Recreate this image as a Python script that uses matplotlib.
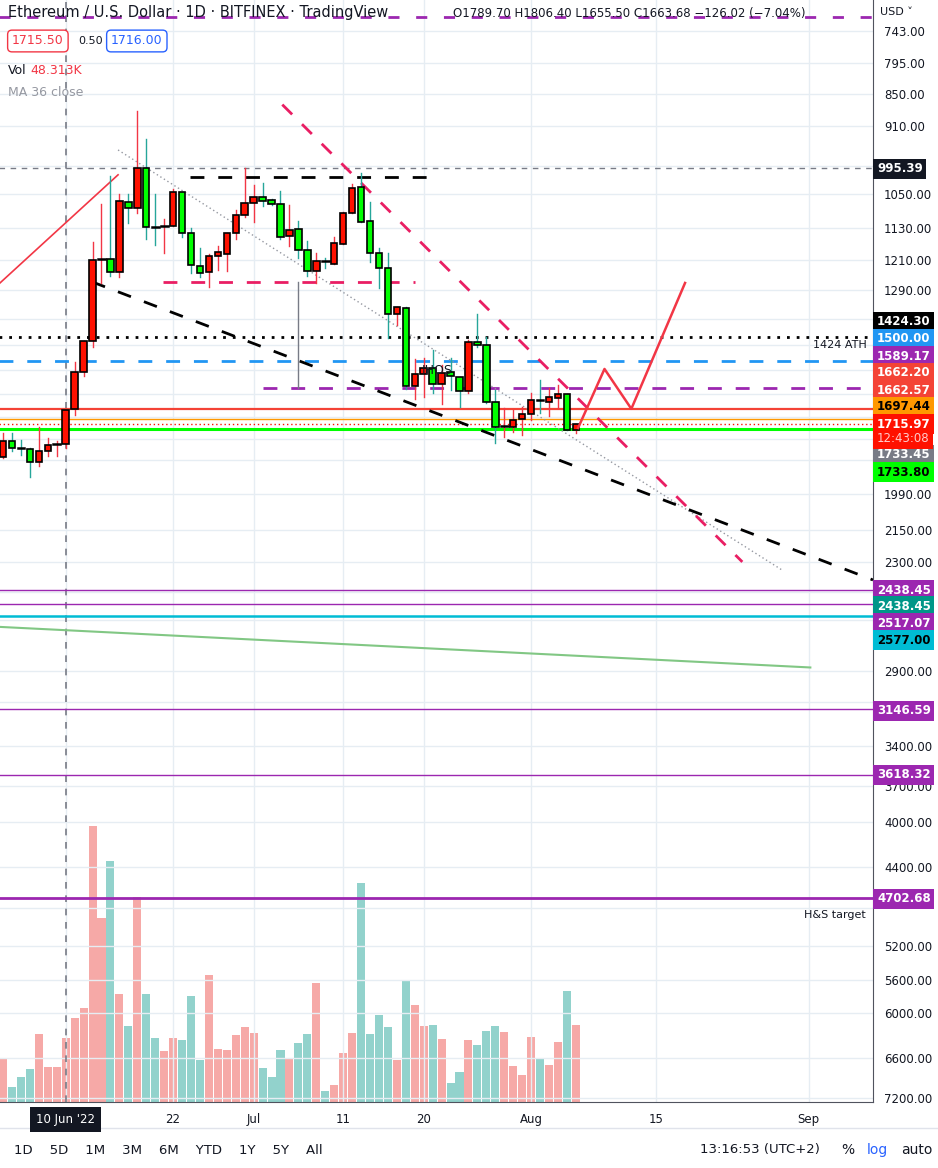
import numpy as np
import matplotlib
matplotlib.use("Agg")
import matplotlib.pyplot as plt
from matplotlib.patches import Rectangle

plt.rcParams["font.family"] = ["DejaVu Sans"]

# daily candles, Jun 3 .. Aug 6 2022 (index 0 = Jun 3)
opens = [1839, 1777, 1806, 1808, 1858, 1815, 1792, 1788, 1661, 1535, 1437, 1209, 1206, 1241, 1069, 1083, 995,
         1127, 1127, 1125, 1046, 1142, 1225, 1241, 1199, 1194, 1142, 1099, 1071, 1057, 1064, 1073, 1150, 1132,
         1185, 1238, 1212, 1220, 1169, 1094, 1035, 1113, 1192, 1231, 1357, 1340, 1581, 1542, 1523, 1575, 1535,
         1551, 1598, 1440, 1449, 1635, 1726, 1725, 1695, 1677, 1628, 1635, 1621, 1608, 1737]
highs = [1843, 1815, 1831, 1919, 1874, 1835, 1835, 1804, 1682, 1548, 1455, 1270, 1252, 1255, 1118, 1094, 1156,
         1171, 1192, 1125, 1152, 1243, 1255, 1281, 1236, 1238, 1156, 1104, 1116, 1078, 1075, 1157, 1174, 1204,
         1252, 1270, 1231, 1220, 1169, 1094, 1116, 1215, 1284, 1428, 1389, 1591, 1625, 1618, 1605, 1642, 1595,
         1653, 1605, 1455, 1639, 1785, 1762, 1744, 1755, 1699, 1674, 1685, 1656, 1737, 1747]
lows = [1747, 1747, 1773, 1806, 1725, 1766, 1777, 1663, 1503, 1437, 1164, 1073, 1011, 1051, 1051, 881, 935,
        1051, 1108, 1040, 1046, 1130, 1178, 1194, 1174, 1142, 1087, 995, 1031, 1027, 1062, 1044, 1076, 1113,
        1162, 1192, 1204, 1152, 1092, 1029, 1005, 1069, 1180, 1192, 1337, 1337, 1494, 1491, 1464, 1513, 1491,
        1551, 1434, 1357, 1425, 1595, 1656, 1663, 1653, 1605, 1561, 1588, 1578, 1608, 1716]
closes = [1777, 1804, 1808, 1858, 1815, 1792, 1790, 1665, 1535, 1437, 1209, 1207, 1241, 1067, 1083, 995, 1127,
          1129, 1124, 1046, 1142, 1222, 1243, 1199, 1189, 1142, 1099, 1071, 1057, 1067, 1073, 1152, 1134, 1185,
          1238, 1212, 1213, 1166, 1094, 1038, 1116, 1192, 1231, 1357, 1337, 1581, 1542, 1523, 1575, 1539, 1548,
          1598, 1440, 1449, 1635, 1725, 1723, 1699, 1677, 1628, 1630, 1618, 1608, 1737, 1716]
volumes = [44, 15, 25, 33, 68, 35, 35, 64, 84, 94, 276, 184, 241, 108, 76, 205, 108, 64, 51, 64, 62, 106, 42,
           127, 53, 52, 67, 75, 69, 34, 25, 52, 44, 59, 68, 119, 11, 17, 49, 69, 219, 68, 87, 75, 42, 121, 97,
           76, 77, 63, 19, 30, 62, 57, 71, 76, 70, 36, 27, 65, 44, 37, 60, 111, 77]

date_ticks = [7, 19, 28, 38, 47, 59, 73, 90]
date_labels = ["10 Jun '22", "22", "Jul", "11", "20", "Aug", "15", "Sep"]
price_ticks = [743, 795, 850, 910, 1050, 1130, 1210, 1290, 1990, 2150, 2300, 2900, 3400, 3700, 4000, 4400,
               5200, 5600, 6000, 6600, 7200]

# horizontal levels: (price, colour, style, width, start index)
levels = [
    (720.65, "#9c27b0", (0, (4, 6)), 2.0, -1),
    (995.39, "#787b86", (0, (4, 4)), 1.0, -1),
    (1424.30, "black", (0, (1, 2.5)), 2.0, -1),
    (1500.00, "#2196f3", (0, (5, 5)), 2.0, -1),
    (1589.17, "#9c27b0", (0, (5, 5)), 2.0, 29),
    (1662.20, "#f44336", "-", 1.6, -1),
    (1697.44, "#ff9800", "-", 1.0, -1),
    (1715.97, "#ff1100", (0, (1, 2)), 1.0, -1),
    (1733.80, "#00ff00", "-", 2.2, -1),
    (2438.45, "#9c27b0", "-", 1.0, -1),
    (2517.07, "#9c27b0", "-", 1.0, -1),
    (2577.00, "#00bcd4", "-", 1.8, -1),
    (3146.59, "#9c27b0", "-", 1.0, -1),
    (3618.32, "#9c27b0", "-", 1.0, -1),
    (4702.68, "#9c27b0", "-", 2.0, -1),
]

# right-scale tags: (text, bg, fg, y pixel)
tags = [
    ("995.39", "#131722", "white", 169), ("1424.30", "black", "white", 322),
    ("1500.00", "#2196f3", "white", 339), ("1589.17", "#9c27b0", "white", 356),
    ("1662.20", "#f44336", "white", 373), ("1662.57", "#f44336", "white", 390),
    ("1697.44", "#ff9800", "black", 407), ("1715.97", "#ff1100", "white", 424),
    ("1733.45", "#787b86", "white", 455), ("1733.80", "#00ff00", "black", 472),
    ("2438.45", "#9c27b0", "white", 590), ("2438.45", "#009688", "white", 606),
    ("2517.07", "#9c27b0", "white", 623), ("2577.00", "#00bcd4", "black", 640),
    ("3146.59", "#9c27b0", "white", 711), ("3618.32", "#9c27b0", "white", 775),
    ("4702.68", "#9c27b0", "white", 899),
]

W, H = 938, 1168
fig = plt.figure(figsize=(W / 100, H / 100), dpi=100)
fig.patch.set_facecolor("white")
ax = fig.add_axes([0, 66 / H, 873 / W, 1102 / H])
ax.set_yscale("log")
ax.set_ylim(7254, 695.6)
ax.set_xlim(-0.34, 97.2)
ax.set_zorder(2)
ax.patch.set_alpha(0)

vax = ax.twinx()
vax.set_zorder(1)
vax.set_ylim(0, 1102)
vax.axis("off")

# grid
for p in price_ticks + [990, 1370, 1450, 1530, 1610, 1690, 1770, 1850, 2450, 2600, 3100, 4800]:
    ax.axhline(p, color="#e6edf3", lw=1, zorder=0)
for d in date_ticks:
    ax.axvline(d, color="#e6edf3", lw=1, zorder=0)

idx = np.arange(len(opens))
up = np.array(closes) >= np.array(opens)
up[[2, 17, 36, 60]] = True
vcol = ["#92d2cc" if u else "#f6a9a7" for u in up]
vax.bar(idx, volumes, width=0.9, color=vcol, zorder=1)

ax.axvline(7, color="#787b86", lw=1.2, ls=(0, (4, 4)), zorder=1)

for p, c, ls, lw, start in levels:
    ax.plot([start if start > 0 else -1, 98], [p, p], color=c, ls=ls, lw=lw, zorder=2)

# drawings
ax.plot([-0.34, 12.85], [1270, 1009], color="#f23645", lw=1.2, zorder=2)
ax.plot([12.85, 87.0], [957, 2338], color="#9598a1", lw=1.0, ls=(0, (1, 2)), zorder=2)
ax.plot([20.9, 47.9], [1013, 1013], color="black", lw=2, ls=(0, (5, 5)), zorder=2)
ax.plot([17.9, 46.0], [1267, 1267], color="#e91e63", lw=2, ls=(0, (5, 5)), zorder=2)
ax.plot([9.94, 97.2], [1267, 2389], color="black", lw=2, ls=(0, (5, 5)), zorder=2)
ax.plot([31.2, 82.6], [869, 2299], color="#e91e63", lw=2, ls=(0, (5, 5)), zorder=2)
ax.plot([33.0, 33.0], [1267, 1589], color="#787b86", lw=1, zorder=2)
ax.plot([-0.34, 90.2], [2640, 2878], color="#81c784", lw=1.5, zorder=2)
ax.plot([64.25, 67.2, 70.2, 76.2], [1729, 1525, 1660, 1270], color="#f23645", lw=1.8, zorder=4)

# candles
for i in idx:
    o, h, l, c = opens[i], highs[i], lows[i], closes[i]
    body = "#00ff00" if up[i] else "#ff1100"
    wick = "#26a69a" if up[i] else "#f23645"
    ax.plot([i, i], [l, h], color=wick, lw=1, zorder=3)
    lo, hi = min(o, c), max(o, c)
    if hi / lo < 1.004:
        ax.plot([i - 0.38, i + 0.38], [lo, lo], color="black", lw=1.8, zorder=3)
    else:
        ax.add_patch(Rectangle((i - 0.36, lo), 0.72, hi - lo, facecolor=body,
                               edgecolor="black", lw=1.2, zorder=3))

ax.text(46.8, 1543, "IHOS", fontsize=9, color="#131722", zorder=5)
ax.text(90.5, 1460, "1424 ATH", fontsize=8, color="#131722", zorder=5)
ax.text(89.5, 4900, "H&S target", fontsize=8, color="#131722", zorder=5)

# axes
ax.set_yticks(price_ticks)
ax.set_yticklabels([f"{p:.2f}" for p in price_ticks])
ax.yaxis.tick_right()
ax.yaxis.set_minor_locator(matplotlib.ticker.NullLocator())
ax.tick_params(axis="y", length=0, labelsize=8.5, labelcolor="#131722", pad=8)
ax.set_xticks(date_ticks)
ax.set_xticklabels(date_labels)
ax.tick_params(axis="x", length=0, labelsize=8.5, labelcolor="#131722", pad=8)
ax.get_xticklabels()[0].set_bbox(dict(boxstyle="square,pad=0.5", fc="#131722", ec="none"))
ax.get_xticklabels()[0].set_color("white")
for s in ["top", "left"]:
    ax.spines[s].set_visible(False)
ax.spines["right"].set_color("#50535e")
ax.spines["bottom"].set_color("#50535e")

for txt, bg, fg, yp in tags:
    fig.text(877 / W, 1 - yp / H, txt, fontsize=8.5, fontweight="bold", color=fg, va="center",
             bbox=dict(boxstyle="square,pad=0.3", fc=bg, ec="none"))
fig.text(877 / W, 1 - 439 / H, "12:43:08", fontsize=8.5, color="#ffcccc", va="center",
         bbox=dict(boxstyle="square,pad=0.3", fc="#ff1100", ec="none"))
fig.text(880 / W, 1 - 12 / H, "USD ˅", fontsize=8, color="#131722", va="center")

# header
fig.text(8 / W, 1 - 13 / H, "Ethereum / U.S. Dollar · 1D · BITFINEX · TradingView", fontsize=10.5,
         color="#131722", va="center")
fig.text(453 / W, 1 - 13 / H, "O1789.70 H1806.40 L1655.50 C1663.68 −126.02 (−7.04%)", fontsize=8.5,
         color="#131722", va="center")
fig.text(12 / W, 1 - 41 / H, "1715.50", fontsize=9, color="#f23645", va="center",
         bbox=dict(boxstyle="round,pad=0.35", fc="white", ec="#f23645"))
fig.text(78 / W, 1 - 41 / H, "0.50", fontsize=8, color="#131722", va="center")
fig.text(111 / W, 1 - 41 / H, "1716.00", fontsize=9, color="#2962ff", va="center",
         bbox=dict(boxstyle="round,pad=0.35", fc="white", ec="#2962ff"))
fig.text(8 / W, 1 - 70 / H, "Vol", fontsize=9, color="#131722", va="center")
fig.text(30 / W, 1 - 70 / H, "48.313K", fontsize=9, color="#f23645", va="center")
fig.text(8 / W, 1 - 93 / H, "MA 36 close", fontsize=9, color="#9598a1", va="center")

# bottom toolbar
fig.add_artist(plt.Line2D([0, 1], [1 - 1128 / H] * 2, color="#e0e3eb", lw=1))
fig.text(14 / W, 1 - 1150 / H, "1D    5D    1M    3M    6M    YTD    1Y    5Y    All", fontsize=9.5,
         color="#131722", va="center")
fig.text(700 / W, 1 - 1150 / H, "13:16:53 (UTC+2)", fontsize=9.5, color="#131722", va="center")
fig.text(841 / W, 1 - 1150 / H, "%", fontsize=10, color="#131722", va="center")
fig.text(867 / W, 1 - 1150 / H, "log", fontsize=10, color="#2962ff", va="center")
fig.text(901 / W, 1 - 1150 / H, "auto", fontsize=10, color="#131722", va="center")

fig.savefig("out.png", dpi=100)
